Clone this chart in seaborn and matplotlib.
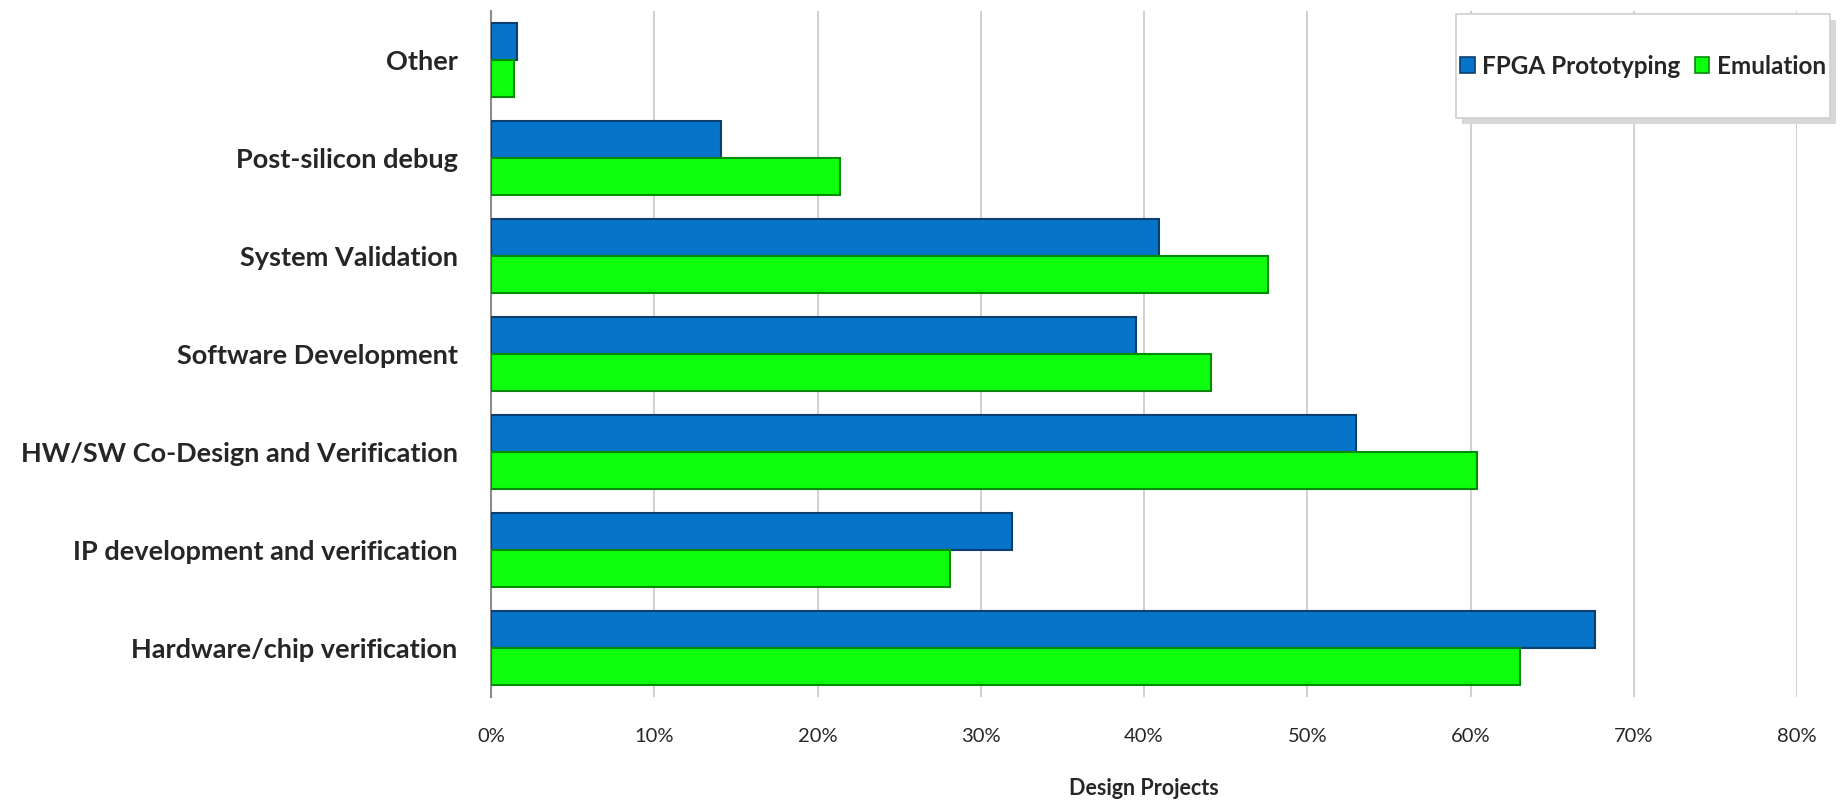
import numpy as np
import pandas as pd
import matplotlib
matplotlib.use('Agg')
import matplotlib.pyplot as plt
import seaborn as sns
from matplotlib.ticker import PercentFormatter, FixedLocator
from matplotlib.patches import Patch, Rectangle

# data (top to bottom)
categories = ['Other', 'Post-silicon debug', 'System Validation', 'Software Development',
              'HW/SW Co-Design and Verification', 'IP development and verification',
              'Hardware/chip verification']
fpga = [0.016, 0.141, 0.409, 0.395, 0.530, 0.319, 0.676]
emulation = [0.014, 0.214, 0.476, 0.441, 0.604, 0.281, 0.630]
series = ['FPGA Prototyping', 'Emulation']

df = pd.DataFrame({
    'category': categories * 2,
    'share': fpga + emulation,
    'series': [series[0]] * len(categories) + [series[1]] * len(categories),
})

sns.set_style('white')
plt.rcParams['font.family'] = ['Lato', 'DejaVu Sans']

colors = {'FPGA Prototyping': '#0674C8', 'Emulation': '#0DFF0D'}
edges = {'FPGA Prototyping': '#0B3F70', 'Emulation': '#078A07'}

W, H = 1846, 801
fig = plt.figure(figsize=(W / 100, H / 100), dpi=100)
ax = fig.add_axes([0.266, 0.1298, 0.7075, 0.8565])

sns.barplot(data=df, y='category', x='share', hue='series', order=categories,
            hue_order=series, palette=colors, saturation=1, orient='h', width=0.75,
            ax=ax, legend=False, zorder=3)

# darker bevel-ish edges
for name, cont in zip(series, ax.containers):
    for bar in cont:
        bar.set_edgecolor(edges[name])
        bar.set_linewidth(1.5)

ax.set_xlim(0, 0.8)
ax.set_ylim(len(categories) - 0.5, -0.5)
ax.xaxis.set_major_locator(FixedLocator(np.arange(0, 0.81, 0.1)))
ax.xaxis.set_major_formatter(PercentFormatter(1.0, decimals=0))
ax.grid(axis='x', color='#C8C8C8', linewidth=1.2, zorder=0)
ax.set_axisbelow(True)

for s in ['top', 'right', 'bottom']:
    ax.spines[s].set_visible(False)
ax.spines['left'].set_color('#8C8C8C')
ax.spines['left'].set_linewidth(1.5)

ax.tick_params(axis='x', length=0, pad=22, labelsize=14.5)
ax.tick_params(axis='y', which='major', length=0, pad=24, labelsize=19.5)
for lbl in ax.get_yticklabels():
    lbl.set_fontweight('bold')
ax.yaxis.set_minor_locator(FixedLocator(np.arange(-0.5, len(categories), 1.0)))
ax.tick_params(axis='y', which='minor', length=8, width=1.5, color='#8C8C8C', direction='out')

ax.set_ylabel('')
ax.set_xlabel('Design Projects', fontsize=15.5, fontweight='bold', labelpad=24)

# legend box (drawn separately so it can be wide and short like the original)
bx0, bx1, by0, by1 = 1456, 1830, 14, 118
fig.patches.append(Rectangle((bx0 / W + 0.003, 1 - by1 / H - 0.008), (bx1 - bx0) / W, (by1 - by0) / H,
                             transform=fig.transFigure, facecolor='#D8D8D8', edgecolor='none', zorder=4))
fig.patches.append(Rectangle((bx0 / W, 1 - by1 / H), (bx1 - bx0) / W, (by1 - by0) / H,
                             transform=fig.transFigure, facecolor='white', edgecolor='#D0D0D0',
                             linewidth=1.2, zorder=5))
handles = [Patch(facecolor=colors[n], edgecolor=edges[n], linewidth=1.2, label=n) for n in series]
leg = fig.legend(handles=handles, loc='center', bbox_to_anchor=((bx0 + bx1) / 2 / W, 1 - (by0 + by1) / 2 / H),
                 ncol=2, frameon=False, borderpad=0, borderaxespad=0,
                 handlelength=0.6, handleheight=0.6, handletextpad=0.3, columnspacing=0.6,
                 prop={'family': 'Lato', 'weight': 'bold', 'size': 17.5})
leg.set_zorder(6)

fig.savefig('out.png', dpi=100)
